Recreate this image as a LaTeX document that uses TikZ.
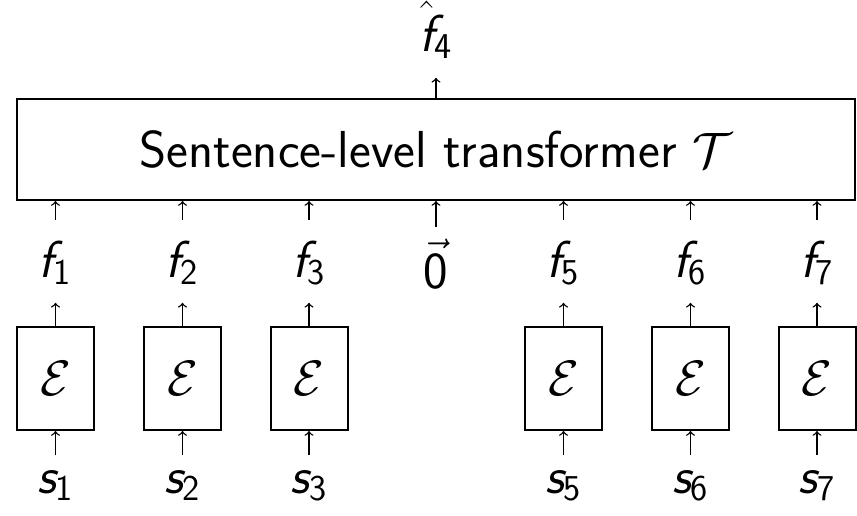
\documentclass[tikz,border=0pt]{standalone}
\usepackage{amsmath}
\newcommand\mfv[2]{\textsf{\itshape #1}_{\textsf{#2}}}
\begin{document}
\begin{tikzpicture}[x=0.5pt,y=-0.5pt,
  font=\fontsize{26}{31}\selectfont\sffamily,
  bigbox/.style={draw, line width=1pt, minimum width=419pt, minimum height=50.5pt, inner sep=0pt},
  enc/.style={draw, line width=1pt, minimum width=38.5pt, minimum height=51.5pt, inner sep=0pt},
  lab/.style={inner sep=0pt, outer sep=0pt, text height=18.5pt, text depth=3.9pt, anchor=base},
  arr/.style={->, line width=0.7pt}]
\useasboundingbox (0,0) rectangle (857,515);
\node[bigbox] (T) at (436,149.5) {Sentence-level transformer $\mathcal{T}$};
\node[lab] (out) at (436,51) {$\hat{\textsf{\itshape f}}_{\textsf{4}}$};
\draw[arr, shorten >=9.5pt] (out |- T.north) -- (out);
\node[lab] (f4) at (436,288) {$\vec{\textsf{0}}$};
\draw[arr, shorten <=12pt] (f4) -- (f4 |- T.south);
\foreach \i/\x in {1/55.5,2/182.5,3/309,5/563.5,6/690.5,7/817} {
  \node[enc] (e\i) at (\x,378.5) {$\mathcal{E}$};
  \node[lab] (f\i) at (\x,277) {$\mfv{f}{\i}$};
  \node[lab] (s\i) at (\x,493) {$\mfv{s}{\i}$};
  \draw[arr, shorten <=0.5pt] (s\i) -- (e\i);
  \draw[arr, shorten >=9pt] (e\i) -- (f\i);
  \draw[arr, shorten <=10pt] (f\i) -- (f\i |- T.south);
}
\end{tikzpicture}
\end{document}
